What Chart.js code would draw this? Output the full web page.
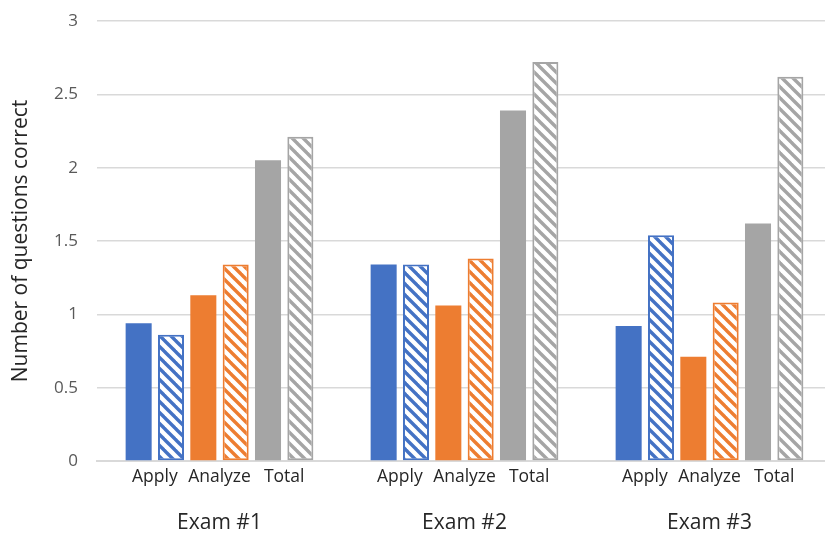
<!DOCTYPE html>
<html>
<head>
<meta charset="utf-8">
<script src="https://cdn.jsdelivr.net/npm/chart.js@4/dist/chart.umd.min.js"></script>
<style>
  html, body { margin: 0; padding: 0; background: #ffffff; overflow: hidden; }
  #wrap { width: 832px; height: 533px; }
</style>
</head>
<body>
<div id="wrap"><canvas id="chart" width="832" height="533"></canvas></div>
<script>
// Exams on the category axis
const exams = ['Exam #1', 'Exam #2', 'Exam #3'];
// Skill groups shown under each pair of bars
const skills = ['Apply', 'Analyze', 'Total'];

// Mean number of questions correct (solid and hatched bar of each pair)
const applySolid     = [0.94, 1.34, 0.92];
const applyHatched   = [0.86, 1.34, 1.54];
const analyzeSolid   = [1.13, 1.06, 0.71];
const analyzeHatched = [1.34, 1.38, 1.08];
const totalSolid     = [2.05, 2.39, 1.62];
const totalHatched   = [2.21, 2.72, 2.62];

// Y axis range and step
const yMin = 0, yMax = 3, yStep = 0.5;

const BLUE = '#4472C4', ORANGE = '#ED7D31', GRAY = '#A5A5A5';
const FONT = '"Open Sans", "Liberation Sans", sans-serif';

// Diagonal "\" stripes on white
function stripes(color) {
  const s = 11;
  const c = document.createElement('canvas');
  c.width = s; c.height = s;
  const g = c.getContext('2d');
  g.fillStyle = '#ffffff';
  g.fillRect(0, 0, s, s);
  g.strokeStyle = color;
  g.lineWidth = 3.4;
  for (let k = -1; k <= 1; k++) {
    g.beginPath();
    g.moveTo(k * s - 2, -2);
    g.lineTo(k * s + s + 2, s + 2);
    g.stroke();
  }
  return g.createPattern(c, 'repeat');
}

function solid(data, color) {
  return { data, backgroundColor: color, borderWidth: 0 };
}
function hatched(data, color) {
  return { data, backgroundColor: stripes(color), borderColor: color, borderWidth: 2, borderSkipped: false };
}

// Skill names centred under each solid/hatched pair
const skillLabels = {
  id: 'skillLabels',
  afterDatasetsDraw(chart) {
    const ctx = chart.ctx;
    const xs = chart.scales.x;
    ctx.save();
    ctx.font = '17.5px ' + FONT;
    ctx.fillStyle = '#262626';
    ctx.textAlign = 'center';
    ctx.textBaseline = 'middle';
    exams.forEach((_, i) => {
      skills.forEach((name, p) => {
        const a = chart.getDatasetMeta(2 * p).data[i];
        const b = chart.getDatasetMeta(2 * p + 1).data[i];
        ctx.fillText(name, (a.x + b.x) / 2, xs.top + 16);
      });
    });
    ctx.restore();
  }
};

new Chart(document.getElementById('chart'), {
  type: 'bar',
  data: {
    labels: exams,
    datasets: [
      solid(applySolid, BLUE),
      hatched(applyHatched, BLUE),
      solid(analyzeSolid, ORANGE),
      hatched(analyzeHatched, ORANGE),
      solid(totalSolid, GRAY),
      hatched(totalHatched, GRAY)
    ]
  },
  options: {
    responsive: false,
    animation: false,
    layout: { padding: { top: 21, right: 0, bottom: 0, left: 0 } },
    datasets: { bar: { categoryPercentage: 0.792, barPercentage: 0.805 } },
    plugins: { legend: { display: false }, tooltip: { enabled: false } },
    scales: {
      x: {
        grid: { display: false, drawTicks: false },
        border: { display: true, color: '#d9d9d9', width: 2 },
        ticks: { color: '#262626', font: { family: FONT, size: 21 }, padding: 49, maxRotation: 0 },
        afterFit(scale) { scale.height = 72; }
      },
      y: {
        min: yMin, max: yMax,
        grid: { color: '#d9d9d9', lineWidth: 1.5, drawTicks: true, tickLength: 17, tickColor: 'rgba(0,0,0,0)' },
        border: { display: false },
        ticks: {
          stepSize: yStep, color: '#595959', font: { family: FONT, size: 17 }, padding: 2,
          callback: (v) => String(Number(v))
        },
        title: {
          display: true,
          text: 'Number of questions correct',
          color: '#262626',
          font: { family: FONT, size: 21 },
          padding: { top: 8, bottom: 0 }
        },
        afterFit(scale) { scale.width = 97; }
      }
    }
  },
  plugins: [skillLabels]
});
</script>
</body>
</html>
